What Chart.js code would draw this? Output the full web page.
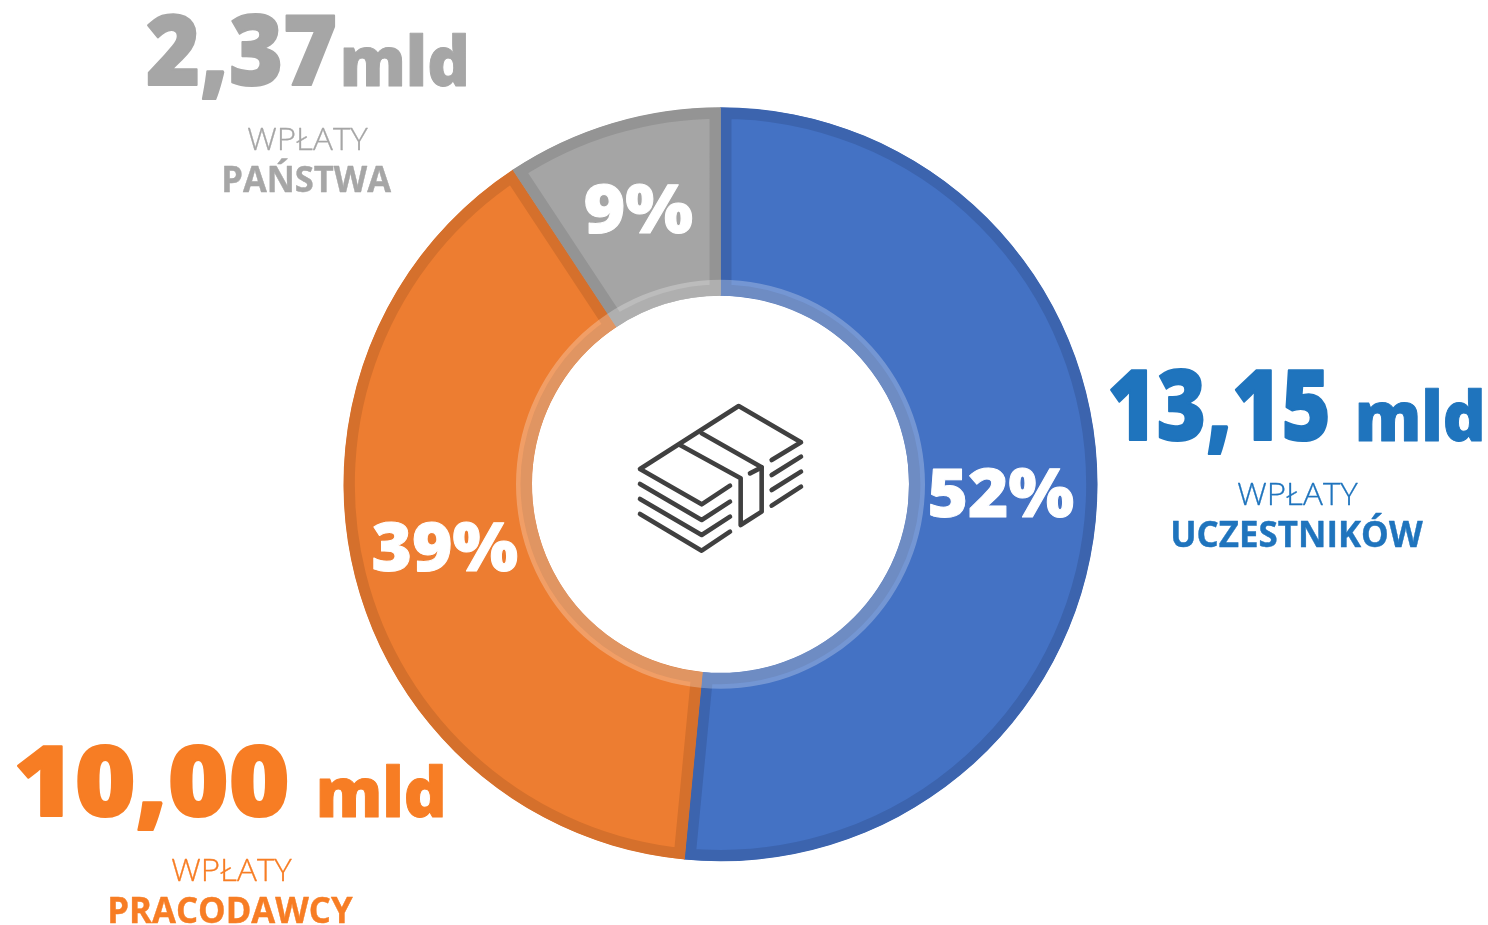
<!DOCTYPE html>
<html><head><meta charset="utf-8">
<style>html,body{margin:0;padding:0;background:#fff;overflow:hidden}#w{position:relative;width:1488px;height:925px}</style>
<script src="https://cdn.jsdelivr.net/npm/chart.js@4"></script>
</head><body><div id="w"><canvas id="c" width="1488" height="925"></canvas></div>
<script>
const categories = ['UCZESTNIKÓW', 'PRACODAWCY', 'PAŃSTWA'];
const amounts = [13.15, 10.00, 2.37];
const amountLabels = ['13,15', '10,00', '2,37'];
const percentLabels = ['52%', '39%', '9%'];
const caption = 'WPŁATY';
const unit = 'mld';
const fillColors = ['#4472C4', '#ED7D31', '#A5A5A5'];
const edgeColors = ['#3C64AE', '#D5702C', '#949494'];
const textColors = ['#1F74BD', '#F77D24', '#A6A6A6'];

const FONT = '"Open Sans"';
const pctBoxes = [[930,1074,517], [373,518,571], [585,693,233]];
const blocks = [
  {num:[1110,1328], unit:[1358,1482], cap:[1237,1358], name:[1172,1423], base:441},
  {num:[17,287],    unit:[319,443],   cap:[171,292],   name:[110,353],   base:817},
  {num:[147,336],   unit:[343,466],   cap:[247,368],   name:[224,392],   base:86}
];
const bandsIcon = [
 [[455,210],[543,157],[356,48],[60,237],[245,343],[330,287]],
 [[60,282],[245,390],[330,335]],
 [[60,327],[245,435],[330,380]],
 [[60,372],[245,482],[330,425]],
 [[455,255],[543,200]],[[455,300],[543,245]],[[455,347],[543,290]],
 [[245,130],[425,232],[425,365],[362,405],[362,265],[180,165]],
 [[390,250],[425,232]]
];

function inkText(ctx,text,x0,x1,base,font,bold){
  ctx.save();
  ctx.font=font;ctx.textAlign='left';ctx.textBaseline='alphabetic';
  const m=ctx.measureText(text);
  const ink=m.actualBoundingBoxRight+m.actualBoundingBoxLeft;
  const sx=(x1-x0-(bold||0))/ink;
  ctx.translate(x0+(bold||0)/2+m.actualBoundingBoxLeft*sx,base);
  ctx.scale(sx,1);
  ctx.fillText(text,0,0);
  if(bold){ctx.strokeStyle=ctx.fillStyle;ctx.lineWidth=bold;ctx.lineJoin='round';ctx.strokeText(text,0,0);}
  ctx.restore();
}

const overlay = {
  id:'overlay',
  afterDatasetsDraw(chart){
    const ctx = chart.ctx, arcs = chart.getDatasetMeta(0).data;
    ctx.save();
    const a0 = arcs[0], cx = a0.x, cy = a0.y, r = a0.innerRadius;
    ctx.beginPath();
    ctx.arc(cx,cy,r+16,0,Math.PI*2);
    ctx.arc(cx,cy,r,0,Math.PI*2,true);
    ctx.fillStyle='rgba(255,255,255,0.26)';
    ctx.fill();
    ctx.fillStyle='#fff';
    percentLabels.forEach((t,i)=>inkText(ctx,t,pctBoxes[i][0],pctBoxes[i][1],pctBoxes[i][2]-0.5,'800 68px '+FONT,1));
    blocks.forEach((b,i)=>{
      ctx.fillStyle=textColors[i];
      inkText(ctx,amountLabels[i],b.num[0],b.num[1],b.base-1,'800 98px '+FONT,2);
      inkText(ctx,unit,b.unit[0],b.unit[1],b.base-0.5,'800 69px '+FONT,1);
      inkText(ctx,caption,b.cap[0],b.cap[1],b.base+64,'300 32px '+FONT,0.3);
      inkText(ctx,categories[i],b.name[0],b.name[1],b.base+106,'700 35px '+FONT,0.4);
    });
    ctx.strokeStyle='#404040';ctx.lineWidth=4.6;ctx.lineCap='round';ctx.lineJoin='round';
    bandsIcon.forEach(l=>{ctx.beginPath();l.forEach((p,j)=>{const x=620+p[0]/3,y=390+p[1]/3;j?ctx.lineTo(x,y):ctx.moveTo(x,y)});ctx.stroke();});
    ctx.restore();
  }
};

new Chart(document.getElementById('c'),{
  type:'doughnut',
  data:{labels:categories,datasets:[{data:amounts,backgroundColor:fillColors,borderColor:edgeColors,borderWidth:11,borderAlign:'inner',borderJoinStyle:'miter',hoverOffset:0}]},
  options:{responsive:false,animation:false,cutout:'50%',rotation:0,
    layout:{padding:{left:343.5,right:390.5,top:107.3,bottom:63.7}},
    plugins:{legend:{display:false},tooltip:{enabled:false}}},
  plugins:[overlay]
});
</script></body></html>
